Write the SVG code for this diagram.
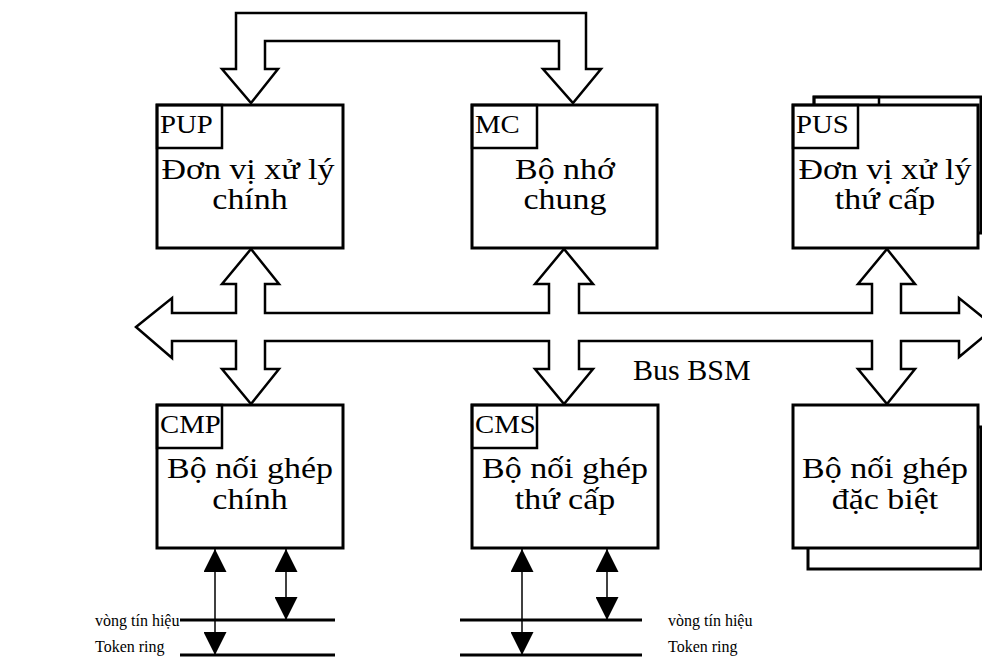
<svg xmlns="http://www.w3.org/2000/svg" width="982" height="658" viewBox="0 0 982 658">
  <defs>
    <style>
      .box { fill: #fff; stroke: #000; stroke-width: 3; }
      .tag { fill: none; stroke: #000; stroke-width: 2.5; }
      .bus { fill: #fff; stroke: #000; stroke-width: 2.5; stroke-linejoin: miter; }
      .wire { fill: none; stroke: #000; stroke-width: 1.5; }
      .ring { fill: none; stroke: #000; stroke-width: 3; }
      .t { font-family: "Liberation Serif", "Times New Roman", serif; fill: #000; }
      .main { font-size: 29px; text-anchor: middle; }
      .lbl { font-size: 25px; }
      .small { font-size: 16px; }
    </style>
    <marker id="tri" viewBox="0 0 10 10" refX="10" refY="5" markerWidth="23" markerHeight="23" markerUnits="userSpaceOnUse" orient="auto-start-reverse">
      <path d="M0,0 L10,5 L0,10 Z" fill="#000"/>
    </marker>
  </defs>
  <rect width="982" height="658" fill="#fff"/>

  <!-- connectors -->
  <g id="connectors">
    <!-- loop link between PUP and MC -->
    <polygon class="bus" points="251,103 278,69 265,69 265,41 559,41 559,69 543,69 573,103 601,69 586,69 586,13 236,13 236,69 222,69"/>
    <!-- BSM bus with its taps -->
    <polygon class="bus" points="136,327 172,298 172,313 236,313 236,284 222,284 251,249 279,284 265,284 265,313 549,313 549,284 535,284 564,249 593,284 579,284 579,313 872,313 872,284 858,284 887,249 915,284 901,284 901,313 959,313 959,298 995,327 959,357 959,341 901,341 901,369 915,369 887,404 858,369 872,369 872,341 579,341 579,369 593,369 564,404 535,369 549,369 549,341 265,341 265,369 279,369 251,404 222,369 236,369 236,341 172,341 172,358"/>
    <!-- token ring lines -->
    <line class="ring" x1="180" y1="620" x2="335" y2="620"/>
    <line class="ring" x1="180" y1="655" x2="335" y2="655"/>
    <line class="ring" x1="460" y1="620" x2="642" y2="620"/>
    <line class="ring" x1="460" y1="655" x2="642" y2="655"/>
    <!-- ring taps -->
    <line class="wire" x1="215" y1="549" x2="215" y2="655" marker-start="url(#tri)" marker-end="url(#tri)"/>
    <line class="wire" x1="286" y1="549" x2="286" y2="620" marker-start="url(#tri)" marker-end="url(#tri)"/>
    <line class="wire" x1="522" y1="549" x2="522" y2="655" marker-start="url(#tri)" marker-end="url(#tri)"/>
    <line class="wire" x1="607" y1="549" x2="607" y2="620" marker-start="url(#tri)" marker-end="url(#tri)"/>
  </g>

  <text class="t" x="633" y="380" font-size="30">Bus BSM</text>

  <g id="pup">
    <rect class="box" x="157" y="105" width="186" height="143"/>
    <rect class="tag" x="157" y="105" width="65" height="43"/>
    <text class="t lbl" transform="translate(160 133) scale(1.15 1)">PUP</text>
    <text class="t main" transform="translate(248 179) scale(1.17 1)">Đơn vị xử lý</text>
    <text class="t main" transform="translate(250 209) scale(1.17 1)">chính</text>
  </g>

  <g id="mc">
    <rect class="box" x="472" y="105" width="185" height="143"/>
    <rect class="tag" x="472" y="105" width="65" height="43"/>
    <text class="t lbl" transform="translate(475 133) scale(1.15 1)">MC</text>
    <text class="t main" transform="translate(565 179) scale(1.17 1)">Bộ nhớ</text>
    <text class="t main" transform="translate(565 209) scale(1.17 1)">chung</text>
  </g>

  <g id="pus">
    <rect class="box" x="814" y="97" width="167" height="136"/>
    <rect class="tag" x="814" y="97" width="65" height="43"/>
    <rect class="box" x="793" y="105" width="185" height="143"/>
    <rect class="tag" x="793" y="105" width="65" height="43"/>
    <text class="t lbl" transform="translate(796 133) scale(1.15 1)">PUS</text>
    <text class="t main" transform="translate(885 179) scale(1.17 1)">Đơn vị xử lý</text>
    <text class="t main" transform="translate(885 209) scale(1.17 1)">thứ cấp</text>
  </g>

  <g id="cmp">
    <rect class="box" x="157" y="405" width="186" height="143"/>
    <rect class="tag" x="157" y="405" width="65" height="43"/>
    <text class="t lbl" transform="translate(160 433) scale(1.15 1)">CMP</text>
    <text class="t main" transform="translate(250 478) scale(1.17 1)">Bộ nối ghép</text>
    <text class="t main" transform="translate(250 509) scale(1.17 1)">chính</text>
  </g>

  <g id="cms">
    <rect class="box" x="472" y="405" width="186" height="143"/>
    <rect class="tag" x="472" y="405" width="65" height="43"/>
    <text class="t lbl" transform="translate(475 433) scale(1.15 1)">CMS</text>
    <text class="t main" transform="translate(565 478) scale(1.17 1)">Bộ nối ghép</text>
    <text class="t main" transform="translate(565 509) scale(1.17 1)">thứ cấp</text>
  </g>

  <g id="special">
    <rect class="box" x="808" y="427" width="173" height="142"/>
    <rect class="box" x="793" y="405" width="185" height="143"/>
    <text class="t main" transform="translate(885 478) scale(1.17 1)">Bộ nối ghép</text>
    <text class="t main" transform="translate(885 509) scale(1.17 1)">đặc biệt</text>
  </g>

  <g id="ring-left-label">
    <text class="t small" x="95" y="626">vòng tín hiệu</text>
    <text class="t small" x="95" y="652">Token ring</text>
  </g>
  <g id="ring-right-label">
    <text class="t small" x="668" y="626">vòng tín hiệu</text>
    <text class="t small" x="668" y="652">Token ring</text>
  </g>
</svg>
